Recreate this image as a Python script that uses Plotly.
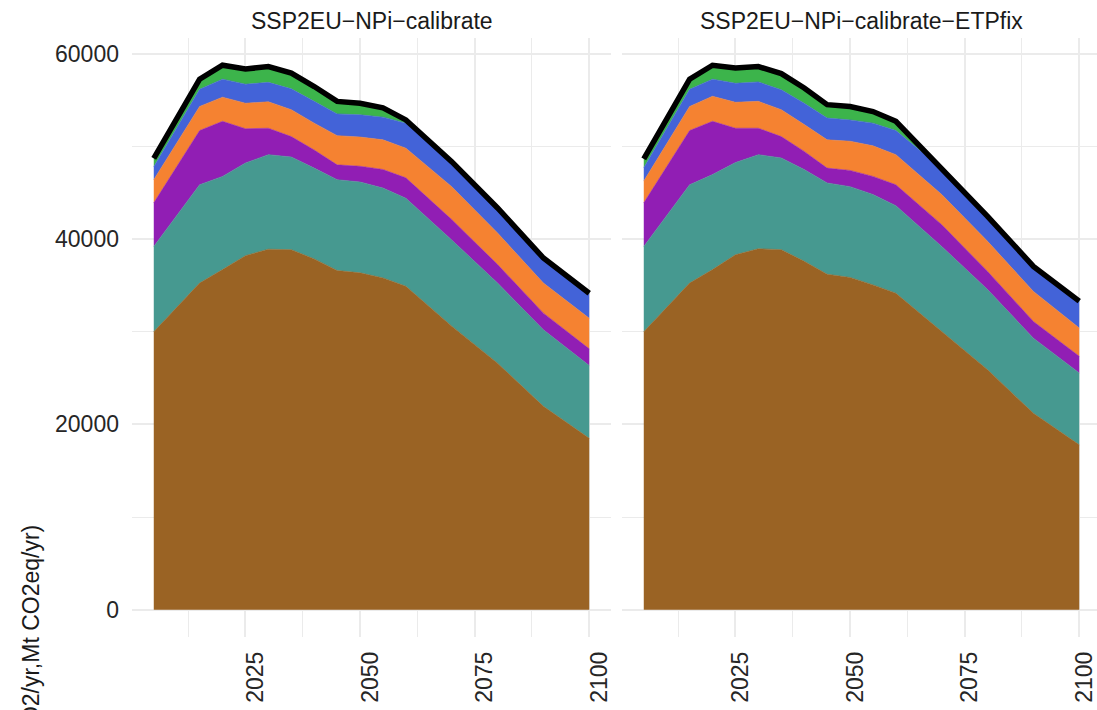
import plotly.graph_objects as go

years = [2005, 2015, 2020, 2025, 2030, 2035, 2040, 2045, 2050, 2055, 2060, 2070, 2080, 2090, 2100]

scenarios = ["SSP2EU\u2212NPi\u2212calibrate", "SSP2EU\u2212NPi\u2212calibrate\u2212ETPfix"]
layer_names = ["Layer 1", "Layer 2", "Layer 3", "Layer 4", "Layer 5", "Layer 6"]
layer_colors = ["#9A6324", "#469990", "#911EB4", "#F58231", "#4363D8", "#3CB44B"]

brown_L = [30000, 35250, 36700, 38200, 38900, 38850, 37850, 36600, 36350, 35800, 34900, 30600, 26600, 21950, 18500]
teal_L = [9200, 10600, 10050, 10000, 10200, 10000, 9800, 9800, 9800, 9700, 9500, 9300, 8650, 8250, 7850]
purple_L = [4700, 5850, 5950, 3700, 2850, 2200, 1950, 1600, 1700, 2000, 2200, 2200, 2000, 1800, 1800]
orange_L = [2500, 2600, 2600, 2750, 2850, 2900, 2900, 3150, 3150, 3200, 3200, 3550, 3400, 3250, 3300]
blue_L = [1400, 1850, 1950, 2050, 2100, 2250, 2350, 2350, 2400, 2450, 2700, 2650, 2650, 2650, 2650]
green_L = [900, 1100, 1500, 1650, 1700, 1700, 1600, 1350, 1250, 1000, 350, 50, 50, 50, 50]

brown_R = [30000, 35250, 36700, 38300, 38950, 38850, 37600, 36200, 35850, 35050, 34150, 30050, 25900, 21200, 17800]
teal_R = [9200, 10600, 10250, 9950, 10150, 9900, 9900, 9850, 9800, 9750, 9450, 9150, 8650, 8100, 7750]
purple_R = [4700, 5850, 5750, 3700, 2850, 2300, 1950, 1600, 1750, 1950, 2250, 2350, 1950, 1800, 1800]
orange_R = [2350, 2600, 2700, 2800, 2900, 2900, 2900, 3050, 3150, 3300, 3250, 3250, 3250, 3250, 3050]
blue_R = [1450, 1850, 1850, 2050, 2100, 2150, 2300, 2350, 2300, 2450, 2600, 2800, 2650, 2650, 2850]
green_R = [950, 1100, 1500, 1650, 1650, 1750, 1650, 1450, 1450, 1250, 1000, 50, 50, 50, 50]

x_ticks = [2025, 2050, 2075, 2100]
x_minor = [2012.5, 2037.5, 2062.5, 2087.5]
y_ticks = [0, 20000, 40000, 60000]
y_minor = [10000, 30000, 50000]

W, H = 1097, 710
FONT = "Liberation Sans, Arial, Helvetica, sans-serif"

panels = [
    (scenarios[0], [brown_L, teal_L, purple_L, orange_L, blue_L, green_L], "x", "y"),
    (scenarios[1], [brown_R, teal_R, purple_R, orange_R, blue_R, green_R], "x2", "y2"),
]

fig = go.Figure()
for pi, (name, layers, xa, ya) in enumerate(panels):
    for li, vals in enumerate(layers):
        fig.add_trace(go.Scatter(
            x=years, y=vals, xaxis=xa, yaxis=ya,
            stackgroup="s%d" % pi, mode="lines",
            line=dict(width=0.6, color=layer_colors[li]),
            fillcolor=layer_colors[li], name=layer_names[li], showlegend=False,
        ))
    total = [sum(v) for v in zip(*layers)]
    fig.add_trace(go.Scatter(
        x=years, y=total, xaxis=xa, yaxis=ya, mode="lines",
        line=dict(width=5.5, color="black"), showlegend=False, name="Total",
    ))

ppy = 4.584  # px per year
left_dom = [132 / W, 611 / W]
right_dom = [622 / W, 1.0]
x_lo = 2000.25
y_dom = [1 - 637 / H, 1 - 38 / H]
y_rng = [-2937, 61687]

grid = "#EBEBEB"
tickfont = dict(family=FONT, size=23, color="#262626")

common_x = dict(
    tickmode="array", tickvals=x_ticks, ticktext=[str(t) for t in x_ticks],
    tickangle=-90, showgrid=True, gridcolor=grid, gridwidth=1.5,
    zeroline=False, showline=False, ticks="", tickfont=tickfont,
    minor=dict(tickmode="array", tickvals=x_minor, showgrid=True, gridcolor=grid, gridwidth=0.8),
    automargin=False, ticklabelstandoff=9, ticklabeloverflow="allow",
)
fig.update_layout(
    xaxis=dict(domain=left_dom, range=[x_lo, x_lo + 479 / ppy], anchor="y", ticklabelshift=10, **common_x),
    xaxis2=dict(domain=right_dom, range=[x_lo, x_lo + 475 / ppy], anchor="y2", ticklabelshift=5, **common_x),
    yaxis=dict(domain=y_dom, range=y_rng, tickmode="array", tickvals=y_ticks,
               ticktext=[str(t) for t in y_ticks], showgrid=True, gridcolor=grid, gridwidth=1.5,
               zeroline=False, showline=False, ticks="", tickfont=tickfont,
               minor=dict(tickmode="array", tickvals=y_minor, showgrid=True, gridcolor=grid, gridwidth=0.8),
               automargin=False, ticklabelstandoff=12, anchor="x"),
    yaxis2=dict(domain=y_dom, range=y_rng, tickmode="array", tickvals=y_ticks,
                showticklabels=False, showgrid=True, gridcolor=grid, gridwidth=1.5,
                zeroline=False, showline=False, ticks="",
                minor=dict(tickmode="array", tickvals=y_minor, showgrid=True, gridcolor=grid, gridwidth=0.8),
                automargin=False, anchor="x2", matches="y"),
    width=W, height=H, margin=dict(l=0, r=0, t=0, b=0),
    paper_bgcolor="white", plot_bgcolor="white", showlegend=False,
    font=dict(family=FONT, color="#1A1A1A"),
)

# facet strip titles
for dom, name in [(left_dom, scenarios[0]), ([622 / W, 1101 / W], scenarios[1])]:
    fig.add_annotation(
        text=name, xref="paper", yref="paper", x=(dom[0] + dom[1]) / 2, y=1 - 21 / H,
        xanchor="center", yanchor="middle", showarrow=False,
        font=dict(family=FONT, size=23, color="#1A1A1A"),
    )

# y-axis title (runs past the bottom edge, as in the reference)
fig.add_annotation(
    text="Emissions (Mt CO2/yr,Mt CO2eq/yr)", xref="paper", yref="paper",
    x=30 / W, y=1 - 523 / H, xanchor="center", yanchor="top", textangle=-90,
    showarrow=False, font=dict(family=FONT, size=23, color="#1A1A1A"),
)

fig.write_html(
    "out.html",
    config={"displayModeBar": False},
    post_script="document.body.style.margin='0';document.body.style.padding='0';document.documentElement.style.overflow='hidden';",
)
